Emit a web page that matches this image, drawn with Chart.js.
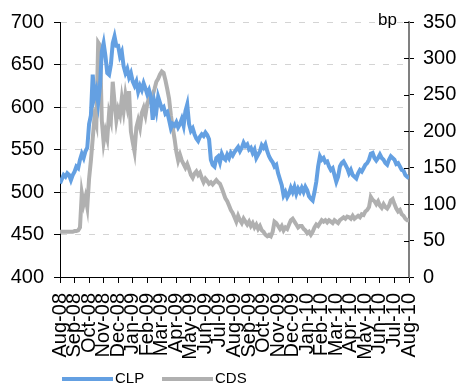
<!DOCTYPE html>
<html>
<head>
<meta charset="utf-8">
<script src="https://cdn.jsdelivr.net/npm/chart.js@4/dist/chart.umd.min.js"></script>
<style>
  html, body { margin: 0; padding: 0; background: #fff; }
  #wrap { width: 460px; height: 387px; }
</style>
</head>
<body>
<div id="wrap"><canvas id="c" width="460" height="387"></canvas></div>
<script>
// Month tick labels, one per month from Aug-08 to Aug-10
const monthLabels = [
  'Aug-08','Sep-08','Oct-08','Nov-08','Dec-08','Jan-09','Feb-09','Mar-09','Apr-09',
  'May-09','Jun-09','Jul-09','Aug-09','Sep-09','Oct-09','Nov-09','Dec-09','Jan-10',
  'Feb-10','Mar-10','Apr-10','May-10','Jun-10','Jul-10','Aug-10'
];

// CLP level (left axis), twice-weekly readings
const clpValues = [
  510, 515, 520, 518, 522, 520, 514, 520, 524, 530, 528, 538, 545, 540, 548, 552,
  580, 590, 638, 612, 620, 605, 625, 665, 675, 660, 640, 638, 650, 675, 683, 672,
  672, 660, 665, 648, 640, 645, 635, 640, 630, 625, 630, 618, 625, 620, 628, 622,
  615, 620, 612, 585, 605, 595, 612, 605, 598, 600, 592, 594, 585, 575, 580, 578,
  582, 576, 580, 586, 578, 595, 603, 580, 572, 575, 568, 563, 560, 565, 568, 566,
  570, 567, 562, 538, 532, 530, 540, 542, 535, 545, 540, 538, 544, 540, 546, 543,
  547, 550, 553, 548, 552, 558, 554, 556, 550, 552, 546, 550, 540, 544, 548, 555,
  552, 556, 548, 542, 538, 535, 530, 532, 522, 515, 508, 496, 500, 494, 498, 505,
  500, 506, 498, 504, 500, 505, 500, 506, 502, 495, 492, 490, 500, 512, 530, 542,
  538, 540, 535, 536, 530, 526, 528, 520, 512, 518, 530, 534, 536, 532, 528, 522,
  526, 520, 518, 516, 522, 526, 524, 528, 532, 534, 538, 545, 546, 540, 537, 540,
  544, 540, 538, 534, 532, 538, 542, 540, 538, 533, 534, 530, 526, 525, 520, 518,
  516
];

// CDS spread in bp (right axis), same dates
const cdsValues = [
   62,  62,  62,  62,  62,  62,  62,  62,  63,  63,  64,  68, 115, 100, 110,  96,
  135, 160, 190, 220, 210, 322, 318, 215, 185, 200, 190, 225, 215, 268, 240, 215,
  230, 222, 245, 228, 250, 235, 255, 200, 185, 172, 205, 215, 205, 225, 232, 222,
  238, 245, 240, 250, 258, 268, 272, 278, 282, 280, 270, 258, 245, 222, 205, 190,
  172, 160, 168, 160, 155, 150, 155, 148, 140, 136, 142, 145, 140, 143, 136, 130,
  135, 132, 128, 130, 127, 130, 133, 130, 128, 122, 115, 108, 104,  98,  92,  88,
   82,  76,  84,  78,  74,  80,  76,  72,  76,  70,  74,  68,  72,  66,  70,  64,
   62,  58,  56,  58,  56,  62,  76,  74,  70,  66,  70,  64,  68,  66,  72,  78,
   80,  76,  72,  68,  70,  70,  66,  64,  60,  62,  58,  62,  68,  72,  70,  74,
   78,  76,  78,  75,  78,  76,  74,  78,  76,  74,  78,  80,  82,  80,  83,  82,
   80,  84,  80,  82,  84,  82,  86,  85,  90,  92,  96, 110, 106, 104, 100, 104,
   98,  95, 100,  96,  94,  98, 105, 107, 100,  94,  90,  92,  86,  84,  80,  78,
   78
];

const seriesNames = ['CLP', 'CDS'];
const seriesColors = ['#64a0e2', '#b0b0b0'];
const monthSpan = monthLabels.length - 1;

function toPoints(values) {
  const step = monthSpan / (values.length - 1);
  return values.map((v, i) => ({ x: i * step, y: v }));
}

const FONT = '"Liberation Sans", Arial, sans-serif';

// "bp" unit caption next to the top of the right axis
const unitLabel = {
  id: 'unitLabel',
  afterDraw(chart) {
    const s = chart.scales.y1;
    const ctx = chart.ctx;
    ctx.save();
    ctx.font = '17px ' + FONT;
    ctx.fillStyle = '#000';
    ctx.textAlign = 'right';
    ctx.textBaseline = 'middle';
    ctx.fillText('bp', s.left - 12, s.getPixelForValue(350) - 2);
    ctx.restore();
  }
};

// right axis tick marks also reach into the plot
const innerTicks = {
  id: 'innerTicks',
  afterDraw(chart) {
    const s = chart.scales.y1;
    const ctx = chart.ctx;
    ctx.save();
    ctx.strokeStyle = '#000';
    ctx.lineWidth = 1;
    s.ticks.forEach(t => {
      const y = Math.round(s.getPixelForValue(t.value)) + 0.5;
      ctx.beginPath();
      ctx.moveTo(s.left - 5, y);
      ctx.lineTo(s.left, y);
      ctx.stroke();
    });
    ctx.restore();
  }
};

// line-sample legend under the axis labels
const lineLegend = {
  id: 'lineLegend',
  afterDraw(chart) {
    const ctx = chart.ctx;
    const y = chart.height - 8;
    let x = chart.chartArea.left + 2;
    ctx.save();
    ctx.font = '15px ' + FONT;
    ctx.textBaseline = 'middle';
    ctx.textAlign = 'left';
    chart.data.datasets.forEach(ds => {
      ctx.strokeStyle = ds.borderColor;
      ctx.lineWidth = 4;
      ctx.beginPath();
      ctx.moveTo(x, y);
      ctx.lineTo(x + 51, y);
      ctx.stroke();
      ctx.fillStyle = '#000';
      ctx.fillText(ds.label, x + 53, y);
      x += 100;
    });
    ctx.restore();
  }
};

new Chart(document.getElementById('c'), {
  type: 'line',
  data: {
    datasets: [
      {
        label: seriesNames[0],
        data: toPoints(clpValues),
        yAxisID: 'y',
        borderColor: seriesColors[0],
        backgroundColor: seriesColors[0],
        borderWidth: 4,
        pointRadius: 0,
        tension: 0,
        order: 0
      },
      {
        label: seriesNames[1],
        data: toPoints(cdsValues),
        yAxisID: 'y1',
        borderColor: seriesColors[1],
        backgroundColor: seriesColors[1],
        borderWidth: 4,
        pointRadius: 0,
        tension: 0,
        order: 1
      }
    ]
  },
  options: {
    responsive: false,
    animation: false,
    layout: { padding: { top: 20, bottom: 25, left: 0, right: 0 } },
    plugins: {
      legend: { display: false },
      tooltip: { enabled: false }
    },
    scales: {
      x: {
        type: 'linear',
        min: 0,
        max: monthSpan,
        afterFit(s) { s.height = 85; },
        afterBuildTicks(s) {
          s.ticks = monthLabels.map((_, i) => ({ value: i }));
        },
        ticks: {
          autoSkip: false,
          maxRotation: 90,
          minRotation: 90,
          padding: 10,
          color: '#000',
          font: { family: FONT, size: 20 },
          callback: (v) => monthLabels[v]
        },
        grid: {
          drawOnChartArea: false,
          tickLength: 6,
          tickColor: '#000'
        },
        border: { color: '#000', width: 1 }
      },
      y: {
        position: 'left',
        min: 400,
        max: 700,
        afterFit(s) { s.width = 60; },
        ticks: {
          stepSize: 50,
          padding: 10,
          color: '#000',
          font: { family: FONT, size: 20 }
        },
        grid: {
          color: '#d4d4d4',
          lineWidth: 1,
          tickLength: 6,
          tickColor: '#000',
          tickBorderDash: []
        },
        border: { color: '#000', width: 1, dash: [6, 8] }
      },
      y1: {
        position: 'right',
        min: 0,
        max: 350,
        afterFit(s) { s.width = 51; },
        ticks: {
          stepSize: 50,
          padding: 9,
          color: '#000',
          font: { family: FONT, size: 20 }
        },
        grid: {
          drawOnChartArea: false,
          tickLength: 5,
          tickColor: '#000'
        },
        border: { color: '#808080', width: 2 }
      }
    }
  },
  plugins: [unitLabel, innerTicks, lineLegend]
});
</script>
</body>
</html>
